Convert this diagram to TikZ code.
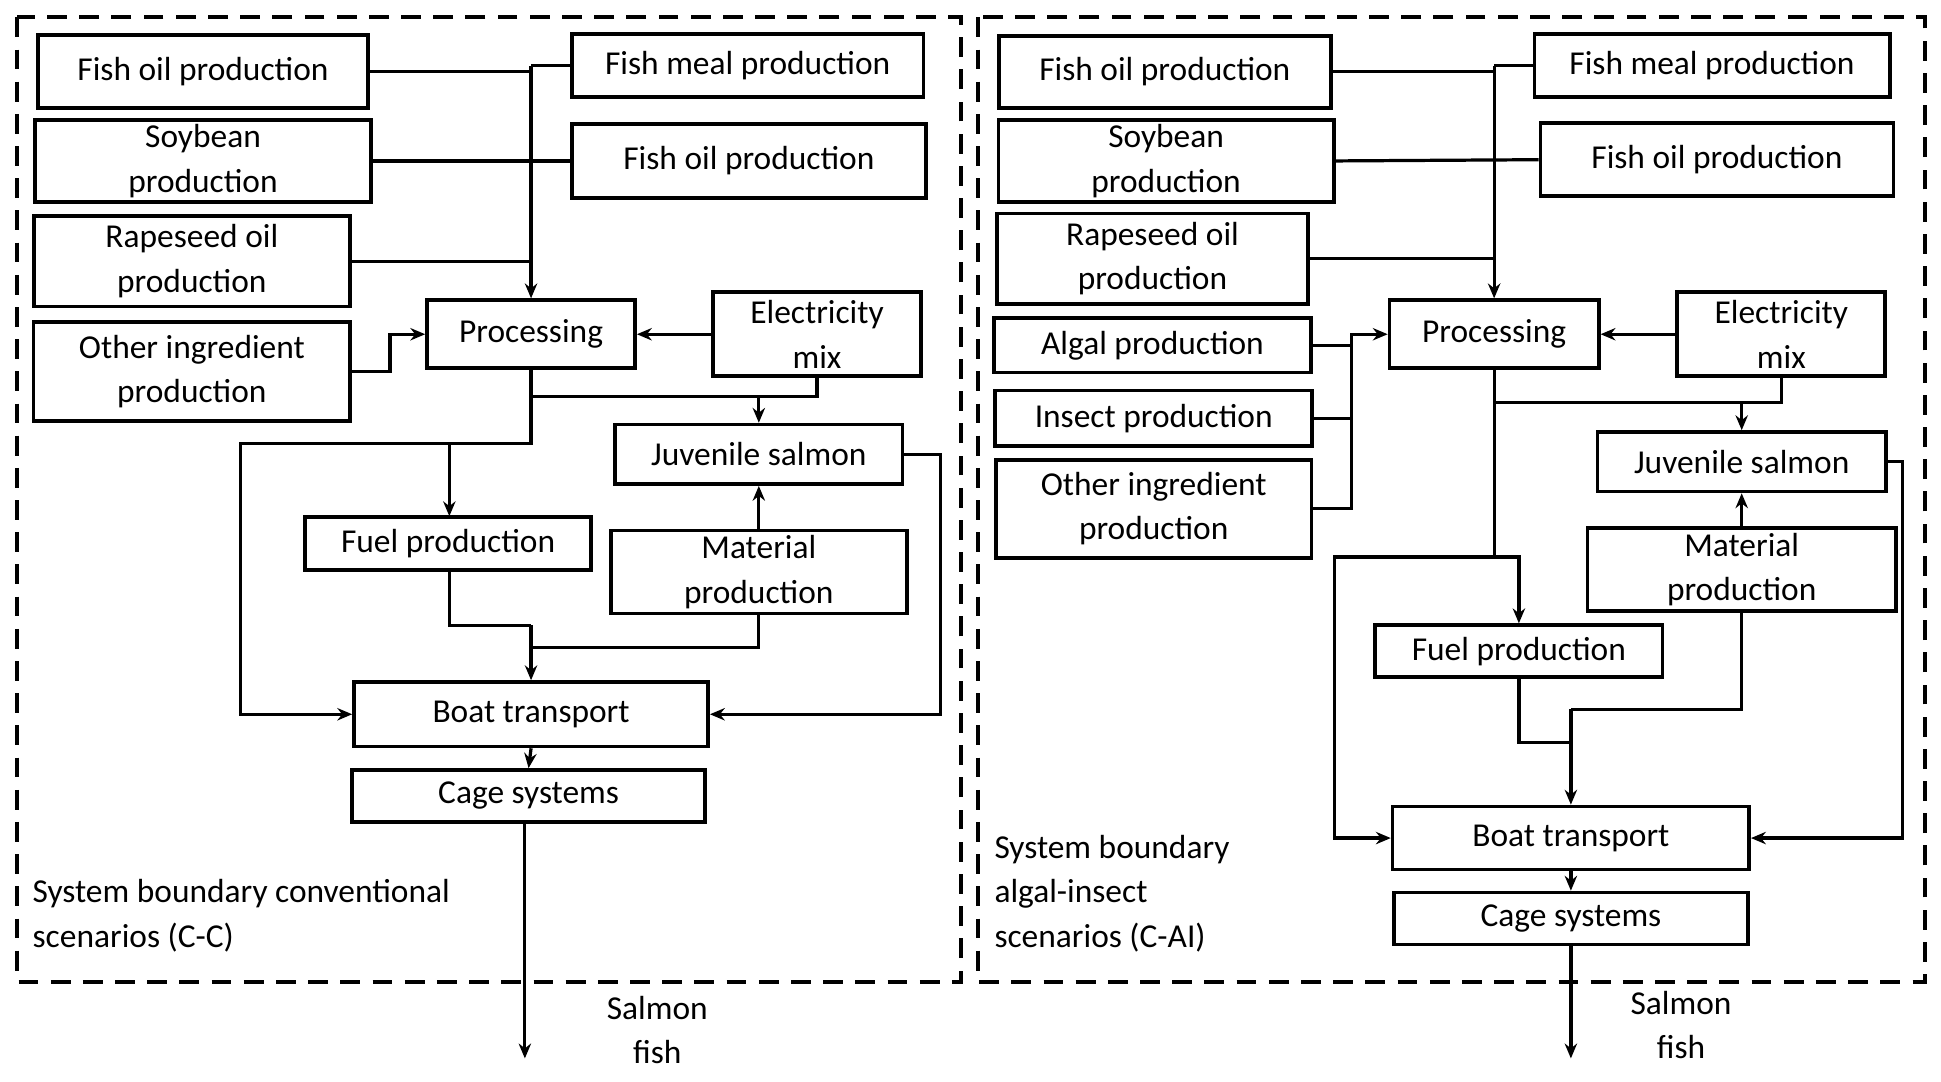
\documentclass[tikz,border=0pt]{standalone}
\usepackage{fontspec}
\setmainfont{Carlito}
\usetikzlibrary{arrows.meta}
\begin{document}
\begin{tikzpicture}[x=0.5pt,y=-0.5pt,
  bx/.style={draw,line width=1.5pt,inner sep=0pt,align=center,font=\fontsize{13.5}{18}\selectfont},
  ln/.style={line width=1.3pt},
  ar/.style={line width=1.3pt,-{Stealth[length=6pt,width=5pt]}},
  bd/.style={line width=1.6pt,dash pattern=on 8pt off 5pt},
  lb/.style={align=left,anchor=north west,inner sep=0pt,font=\fontsize{13.5}{18}\selectfont}]
\useasboundingbox (0,0) rectangle (1568,874);
\newcommand\bx[6]{\node[bx,minimum width=#4*0.5pt,minimum height=#5*0.5pt] (#1) at (#2,#3) {#6};}
\draw[bd] (14,14) rectangle (776,793);
\draw[bd] (790,14) rectangle (1555,793);
% left
\bx{a1}{164}{58}{267}{59}{Fish oil production}
\bx{a2}{604}{53}{284}{51}{Fish meal production}
\bx{a3}{164}{130}{271}{66}{Soybean\\production}
\bx{a4}{605}{130}{286}{60}{Fish oil production}
\bx{a5}{155}{211}{255}{73}{Rapeseed oil\\production}
\bx{a6}{155}{300}{256}{80}{Other ingredient\\production}
\bx{ap}{429}{270}{168}{55}{Processing}
\bx{ae}{660}{270}{168}{68}{Electricity\\mix}
\bx{aj}{613}{367}{232}{48}{Juvenile salmon}
\bx{af}{362}{439}{231}{43}{Fuel production}
\bx{am}{613}{462}{239}{67}{Material\\production}
\bx{ab}{429}{577}{286}{52}{Boat transport}
\bx{ac}{427}{643}{285}{42}{Cage systems}
\node[lb] (al) at (26,710) {System boundary conventional\\scenarios (C-C)};
\node[align=center,font=\fontsize{13.5}{18}\selectfont] (as) at (531,832) {Salmon\\fish};
\coordinate (ao) at (424,855);
\draw[ln] (a1.east) -- (429,58);
\draw[ln] (a2.west) -- (429,53);
\draw[ln] (a3.east) -- (a4.west);
\draw[ln] (a5.east) -- (429,211);
\draw[ar] (429,53) -- (ap.north);
\draw[ar] (a6.east) -- (315,300) -- (315,270) -- (ap.west);
\draw[ar] (ae.west) -- (ap.east);
\draw[ln] (ap.south) -- (429,320) -- (613,320);
\draw[ln] (ae.south) -- (660,320) -- (613,320);
\draw[ar] (613,320) -- (aj.north);
\draw[ar] (429,320) -- (429,358) -- (194,358) -- (194,577) -- (ab.west);
\draw[ar] (363,358) -- (363,417);
\draw[ar] (am.north) -- (aj.south);
\draw[ln] (363,460) -- (363,505) -- (429,505);
\draw[ln] (am.south) -- (613,523) -- (429,523);
\draw[ar] (429,505) -- (ab.north);
\draw[ar] (aj.east) -- (760,367) -- (760,577) -- (ab.east);
\draw[ar] (ab.south) -- (ac.north);
\draw[ar] (424,664) -- (ao);
% right
\bx{b1}{941}{58}{268}{58}{Fish oil production}
\bx{b2}{1383}{53}{287}{51}{Fish meal production}
\bx{b3}{942}{130}{271}{66}{Soybean\\production}
\bx{b4}{1387}{129}{285}{59}{Fish oil production}
\bx{b5}{931}{209}{251}{73}{Rapeseed oil\\production}
\bx{b6}{931}{279}{256}{44}{Algal production}
\bx{b7}{932}{338}{256}{45}{Insect production}
\bx{b8}{932}{411}{255}{79}{Other ingredient\\production}
\bx{bp}{1207}{270}{169}{55}{Processing}
\bx{be}{1439}{270}{168}{68}{Electricity\\mix}
\bx{bj}{1407}{373}{233}{48}{Juvenile salmon}
\bx{bm}{1407}{460}{249}{67}{Material\\production}
\bx{bf}{1227}{526}{232}{42}{Fuel production}
\bx{bb}{1269}{677}{288}{51}{Boat transport}
\bx{bc}{1269}{742}{286}{42}{Cage systems}
\node[lb] (bl) at (803,674) {System boundary\\algal-insect\\scenarios (C-AI)};
\node[align=center,font=\fontsize{13.5}{18}\selectfont] (bs) at (1358,828) {Salmon\\fish};
\coordinate (bo) at (1269,855);
\draw[ln] (b1.east) -- (1207,58);
\draw[ln] (b2.west) -- (1207,53);
\draw[ln] (b3.east) -- (b4.west);
\draw[ln] (b5.east) -- (1207,209);
\draw[ar] (1207,53) -- (bp.north);
\draw[ln] (b6.east) -- (1092,279);
\draw[ln] (b7.east) -- (1092,338);
\draw[ar] (b8.east) -- (1092,411) -- (1092,270) -- (bp.west);
\draw[ar] (be.west) -- (bp.east);
\draw[ln] (bp.south) -- (1207,325) -- (1407,325);
\draw[ln] (be.south) -- (1439,325) -- (1407,325);
\draw[ar] (1407,325) -- (bj.north);
\draw[ar] (1207,325) -- (1207,450) -- (1227,450) -- (bf.north);
\draw[ar] (1207,450) -- (1078,450) -- (1078,677) -- (bb.west);
\draw[ar] (bm.north) -- (bj.south);
\draw[ln] (bf.south) -- (1227,600) -- (1269,600);
\draw[ln] (bm.south) -- (1407,573) -- (1269,573);
\draw[ar] (1269,573) -- (bb.north);
\draw[ar] (bj.east) -- (1537,373) -- (1537,677) -- (bb.east);
\draw[ar] (bb.south) -- (bc.north);
\draw[ar] (bc.south) -- (bo);
\end{tikzpicture}
\end{document}
